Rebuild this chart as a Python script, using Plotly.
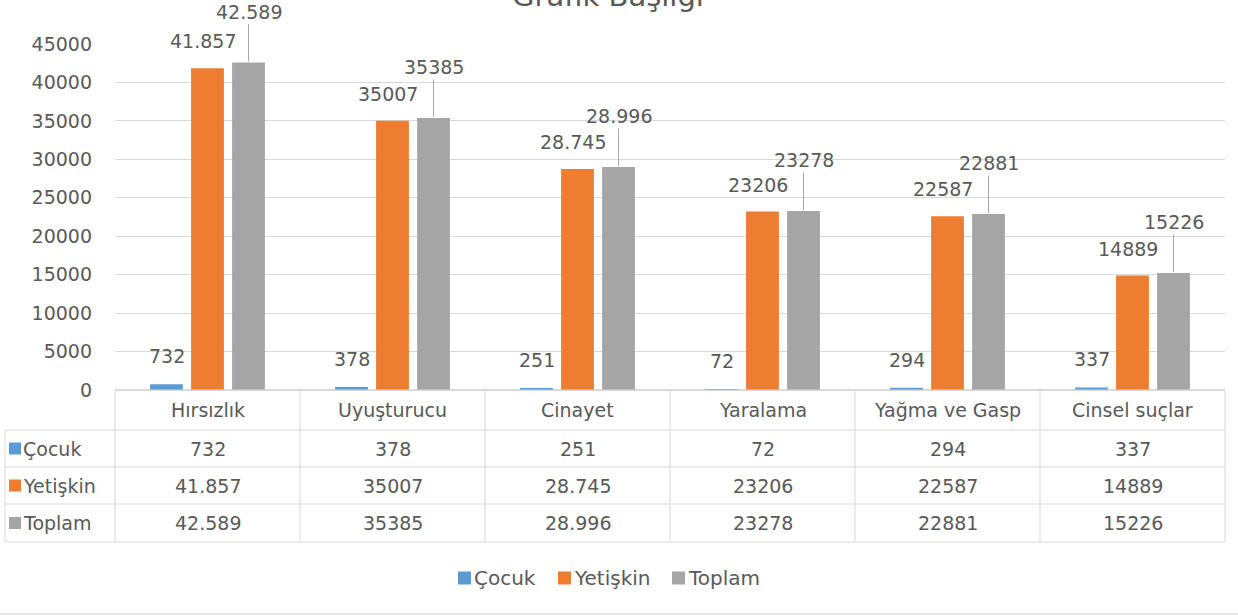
import plotly.graph_objects as go

categories = ["Hırsızlık", "Uyuşturucu", "Cinayet", "Yaralama", "Yağma ve Gasp", "Cinsel suçlar"]
series_names = ["Çocuk", "Yetişkin", "Toplam"]
cocuk = [732, 378, 251, 72, 294, 337]
yetiskin = [41857, 35007, 28745, 23206, 22587, 14889]
toplam = [42589, 35385, 28996, 23278, 22881, 15226]
cocuk_labels = ["732", "378", "251", "72", "294", "337"]
yetiskin_labels = ["41.857", "35007", "28.745", "23206", "22587", "14889"]
toplam_labels = ["42.589", "35385", "28.996", "23278", "22881", "15226"]
y_ticks = [0, 5000, 10000, 15000, 20000, 25000, 30000, 35000, 40000, 45000]

colors = ["#5B9BD5", "#ED7D31", "#A5A5A5"]
TXT = "#595959"
GRID = "#D9D9D9"
FONT = "DejaVu Sans"

FW, FH = 1238, 616
L, R, T, B = 115, 1225, 44, 390
W, H = R - L, B - T


def xp(px):
    return (px - L) / W


def yp(py):
    return (B - py) / H


fig = go.Figure()
for name, vals, col in zip(series_names, [cocuk, yetiskin, toplam], colors):
    fig.add_trace(go.Bar(x=categories, y=vals, name=name, marker=dict(color=col, line=dict(width=0))))

annotations = []
shapes = []
lfont = dict(family=FONT, size=19, color=TXT)

# data labels
for cat, v, lab in zip(categories, cocuk, cocuk_labels):
    annotations.append(dict(x=cat, y=v, xref="x", yref="y", text=lab, showarrow=False,
                            xanchor="center", yanchor="middle",
                            xshift=-41, yshift=28, font=lfont))
for cat, v, lab in zip(categories, yetiskin, yetiskin_labels):
    annotations.append(dict(x=cat, y=v, xref="x", yref="y", text=lab, showarrow=False,
                            xanchor="center", yanchor="middle",
                            xshift=-5, yshift=27, font=lfont))
for cat, v, lab in zip(categories, toplam, toplam_labels):
    annotations.append(dict(x=cat, y=v, xref="x", yref="y", text=lab, showarrow=True,
                            arrowhead=0, arrowwidth=1, arrowcolor="#A6A6A6", ax=0, ay=-51,
                            standoff=1, xshift=41, font=lfont))

# data table
col_edges = [L + (W / len(categories)) * k for k in range(len(categories) + 1)]
row_edges = [390, 430, 467, 504, 542]
line = dict(color=GRID, width=1)
shapes.append(dict(type="line", xref="paper", yref="paper", x0=xp(L), x1=xp(R), y0=yp(390), y1=yp(390), line=line))
for ry in row_edges[1:]:
    shapes.append(dict(type="line", xref="paper", yref="paper", x0=xp(5), x1=xp(R), y0=yp(ry), y1=yp(ry), line=line))
for cx in col_edges:
    shapes.append(dict(type="line", xref="paper", yref="paper", x0=xp(cx), x1=xp(cx), y0=yp(390), y1=yp(542), line=line))
shapes.append(dict(type="line", xref="paper", yref="paper", x0=xp(5), x1=xp(5), y0=yp(430), y1=yp(542), line=line))

tfont = dict(family=FONT, size=19, color=TXT)
for i, cat in enumerate(categories):
    cx = (col_edges[i] + col_edges[i + 1]) / 2
    annotations.append(dict(x=xp(cx), y=yp(410), xref="paper", yref="paper", text=cat,
                            showarrow=False, xanchor="center", yanchor="middle", font=tfont))
    for r, labs in enumerate([cocuk_labels, yetiskin_labels, toplam_labels]):
        cy = (row_edges[r + 1] + row_edges[r + 2]) / 2
        annotations.append(dict(x=xp(cx), y=yp(cy), xref="paper", yref="paper", text=labs[i],
                                showarrow=False, xanchor="center", yanchor="middle", font=tfont))
for r, (name, col) in enumerate(zip(series_names, colors)):
    cy = (row_edges[r + 1] + row_edges[r + 2]) / 2
    shapes.append(dict(type="rect", xref="paper", yref="paper", x0=xp(9), x1=xp(21),
                       y0=yp(cy + 6), y1=yp(cy - 6), fillcolor=col, line=dict(width=0)))
    annotations.append(dict(x=xp(21), y=yp(cy), xref="paper", yref="paper", text=name,
                            showarrow=False, xanchor="left", yanchor="middle", font=tfont))

# legend (drawn below the table, as in the reference)
legend_x = [458, 558, 672]
LEG_Y = 578
for name, col, lx in zip(series_names, colors, legend_x):
    shapes.append(dict(type="rect", xref="paper", yref="paper", x0=xp(lx), x1=xp(lx + 13),
                       y0=yp(LEG_Y + 6.5), y1=yp(LEG_Y - 6.5), fillcolor=col, line=dict(width=0)))
    annotations.append(dict(x=xp(lx + 14), y=yp(LEG_Y), xref="paper", yref="paper", text=name,
                            showarrow=False, xanchor="left", yanchor="middle",
                            font=dict(family=FONT, size=20, color=TXT)))

# outer chart border (bottom edge)
shapes.append(dict(type="line", xref="paper", yref="paper", x0=xp(0), x1=xp(FW), y0=yp(614), y1=yp(614),
                   line=dict(color="#E6E6E6", width=2)))

fig.update_layout(
    width=FW, height=FH,
    margin=dict(l=L, r=FW - R, t=T, b=FH - B, autoexpand=False),
    paper_bgcolor="white", plot_bgcolor="white",
    barmode="group", bargap=0.335, bargroupgap=0.2,
    title=dict(text="Grafik Başlığı", x=608 / FW, xref="container", xanchor="center",
               y=1 - 6 / FH, yref="container", yanchor="bottom",
               font=dict(family=FONT, size=29, color=TXT)),
    xaxis=dict(showticklabels=False, showgrid=False, zeroline=False, showline=False,
               range=[-0.5, len(categories) - 0.5]),
    yaxis=dict(range=[0, 45000], tickvals=y_ticks, ticktext=[str(t) for t in y_ticks],
               showgrid=True, gridcolor=GRID, gridwidth=1, zeroline=True, zerolinecolor=GRID,
               showline=False, ticks="", ticklabelstandoff=22,
               tickfont=dict(family=FONT, size=19, color=TXT)),
    showlegend=False,
    annotations=annotations,
    shapes=shapes,
)

fig.write_html("out.html", config={"displayModeBar": False},
               post_script="document.body.style.margin='0px';")
